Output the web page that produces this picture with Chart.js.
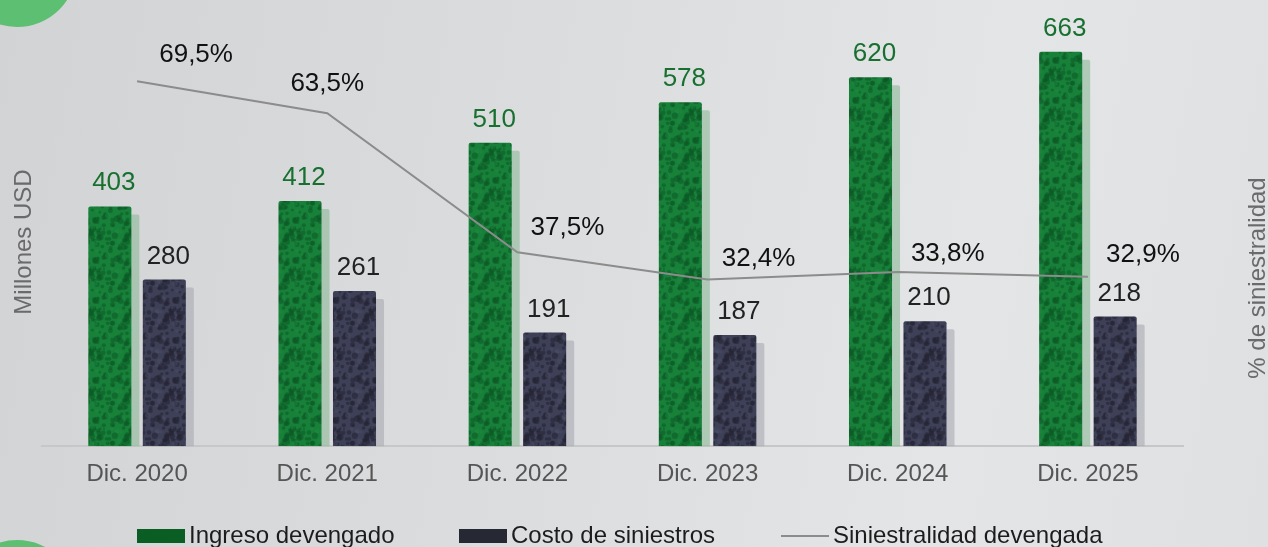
<!DOCTYPE html>
<html>
<head>
    <title>Ingreso vs siniestros</title>
    <script src="https://cdn.jsdelivr.net/npm/chart.js@4.4.1/dist/chart.umd.min.js"></script>
    <style>
        html, body { margin: 0; padding: 0; }
        body {
            width: 1268px; height: 547px; overflow: hidden;
            background: linear-gradient(100deg, #d2d3d5 0%, #dcdddf 45%, #e4e5e7 75%, #dfe0e2 100%);
        }
    </style>
</head>
<body>
<canvas id="siniestralidadChart" width="1268" height="547"></canvas>
<script>
    var years = ['Dic. 2020', 'Dic. 2021', 'Dic. 2022', 'Dic. 2023', 'Dic. 2024', 'Dic. 2025'];
    var ingreso = [403, 412, 510, 578, 620, 663];
    var costo = [280, 261, 191, 187, 210, 218];
    var siniestralidad = [69.5, 63.5, 37.5, 32.4, 33.8, 32.9];

    var FONT = '"Liberation Sans", Arial, sans-serif';

    // mottled fill, deterministic so every render looks the same
    function mottle(base, dark, light) {
        var c = document.createElement('canvas');
        c.width = 40; c.height = 40;
        var g = c.getContext('2d');
        g.fillStyle = base;
        g.fillRect(0, 0, 40, 40);
        function h(n) { var s = Math.sin(n * 12.9898) * 43758.5453; return s - Math.floor(s); }
        for (var i = 0; i < 90; i++) {
            var x = h(i + 1) * 40, y = h(i + 101) * 40, r = 1 + h(i + 201) * 2.2;
            g.fillStyle = i % 4 === 0 ? light : dark;
            for (var dx = -40; dx <= 40; dx += 40) {
                for (var dy = -40; dy <= 40; dy += 40) {
                    g.beginPath();
                    g.arc(x + dx, y + dy, r, 0, Math.PI * 2);
                    g.fill();
                }
            }
        }
        return g.createPattern(c, 'repeat');
    }

    var ctx = document.getElementById('siniestralidadChart').getContext('2d');
    var greenFill = mottle('#178039', 'rgba(12,88,38,0.55)', 'rgba(35,140,70,0.35)');
    var darkFill = mottle('#3e4058', 'rgba(36,37,52,0.6)', 'rgba(80,83,105,0.35)');

    var backdrop = {
        id: 'backdrop',
        beforeDraw: function(chart) {
            var c = chart.ctx;
            c.save();
            c.fillStyle = '#5cbf72';
            c.beginPath(); c.arc(17, -33, 60, 0, Math.PI * 2); c.fill();
            c.beginPath(); c.arc(17, 601, 61, 0, Math.PI * 2); c.fill();
            c.restore();
        }
    };

    // soft offset shadow behind bars
    var barShadow = {
        id: 'barShadow',
        beforeDatasetDraw: function(chart, args) {
            var c = chart.ctx;
            c.save();
            if (args.index === 0) c.shadowColor = 'rgba(140,185,152,0.6)';
            else if (args.index === 1) c.shadowColor = 'rgba(168,170,178,0.6)';
            else c.shadowColor = 'transparent';
            c.shadowOffsetX = 8;
            c.shadowOffsetY = 8;
            c.shadowBlur = 1;
        },
        afterDatasetDraw: function(chart) {
            chart.ctx.restore();
        }
    };

    var labelsPlugin = {
        id: 'valueLabels',
        afterDatasetsDraw: function(chart) {
            var c = chart.ctx;
            c.save();
            c.font = '26px ' + FONT;
            c.textAlign = 'center';
            c.textBaseline = 'alphabetic';
            chart.getDatasetMeta(0).data.forEach(function(bar, i) {
                c.fillStyle = '#17702f';
                c.fillText(ingreso[i], bar.x + 4, bar.y - 16);
            });
            chart.getDatasetMeta(1).data.forEach(function(bar, i) {
                c.fillStyle = '#222222';
                c.fillText(costo[i], bar.x + 4, bar.y - 16);
            });
            var dx = [59, 0, 50, 51, 50, 55];
            var dy = [-26, -29, -24, -21, -18, -22];
            c.textBaseline = 'middle';
            c.fillStyle = '#111111';
            chart.getDatasetMeta(2).data.forEach(function(pt, i) {
                c.fillText(siniestralidad[i].toFixed(1).replace('.', ',') + '%', pt.x + dx[i], pt.y + dy[i]);
            });

            // axis titles
            c.fillStyle = '#6a6a6a';
            c.font = '24px ' + FONT;
            c.save();
            c.translate(24, 242);
            c.rotate(-Math.PI / 2);
            c.fillText('Millones USD', 0, 0);
            c.restore();
            c.save();
            c.translate(1258, 278);
            c.rotate(-Math.PI / 2);
            c.fillText('% de siniestralidad', 0, 0);
            c.restore();

            // legend
            var xs = [137, 459, 781];
            var ly = 536;
            c.font = '24px ' + FONT;
            c.textAlign = 'left';
            c.textBaseline = 'middle';
            chart.data.datasets.forEach(function(ds, i) {
                if (i < 2) {
                    c.fillStyle = ds.legendColor;
                    c.fillRect(xs[i], ly - 7, 48, 14);
                } else {
                    c.strokeStyle = ds.borderColor;
                    c.lineWidth = 2;
                    c.beginPath(); c.moveTo(xs[i], ly); c.lineTo(xs[i] + 48, ly); c.stroke();
                }
                c.fillStyle = '#1c1c1c';
                c.fillText(ds.label, xs[i] + 52, ly);
            });
            c.restore();
        }
    };

    var chart = new Chart(ctx, {
        data: {
            labels: years,
            datasets: [{
                type: 'bar',
                label: 'Ingreso devengado',
                data: ingreso,
                backgroundColor: greenFill,
                legendColor: '#0a5e23',
                borderRadius: 2,
                borderSkipped: 'bottom',
                categoryPercentage: 0.573,
                barPercentage: 0.79,
                yAxisID: 'y',
                order: 2
            }, {
                type: 'bar',
                label: 'Costo de siniestros',
                data: costo,
                backgroundColor: darkFill,
                legendColor: '#262834',
                borderRadius: 2,
                borderSkipped: 'bottom',
                categoryPercentage: 0.573,
                barPercentage: 0.79,
                yAxisID: 'y',
                order: 3
            }, {
                type: 'line',
                label: 'Siniestralidad devengada',
                data: siniestralidad,
                borderColor: '#8c8c8c',
                borderWidth: 2,
                pointRadius: 0,
                tension: 0,
                yAxisID: 'y1',
                order: 1
            }]
        },
        options: {
            responsive: false,
            animation: false,
            devicePixelRatio: 1,
            layout: { padding: { left: 42, right: 85, top: 0, bottom: 44 } },
            plugins: {
                legend: { display: false },
                tooltip: { enabled: false }
            },
            scales: {
                x: {
                    grid: { display: false, drawTicks: false },
                    border: { display: true, color: '#c6c7c9', width: 2 },
                    ticks: {
                        padding: 14,
                        color: '#555555',
                        font: { family: FONT, size: 24 }
                    }
                },
                y: { display: false, min: 0, max: 750 },
                y1: { display: false, min: 1.2, max: 84.7, position: 'right' }
            }
        },
        plugins: [backdrop, barShadow, labelsPlugin]
    });
</script>
</body>
</html>
